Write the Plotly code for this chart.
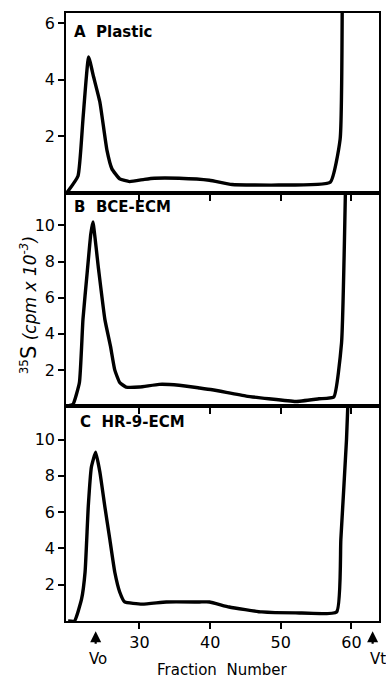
import plotly.graph_objects as go
from plotly.subplots import make_subplots

# ---- data (fraction number vs 35S cpm x 10^-3) ----
fraction_a = [19.7, 21.3, 22.0, 22.8, 23.5, 24.4, 25.4, 26.1, 27.2, 28.6, 30.7, 32.1,
              35.6, 39.9, 43.1, 49.7, 57.0, 58.4, 58.7]
cpm_a = [0.0, 0.6, 2.6, 4.8, 4.1, 3.2, 1.5, 0.85, 0.5, 0.4, 0.48, 0.52,
         0.52, 0.45, 0.3, 0.28, 0.38, 1.9, 7.0]

fraction_b = [19.9, 20.6, 21.5, 22.0, 22.6, 23.1, 23.4, 24.2, 25.1, 25.9, 26.5, 27.2,
              28.1, 30.0, 32.8, 35.6, 38.5, 40.3, 45.1, 48.3, 52.1, 55.4, 57.5, 58.6, 59.2]
cpm_b = [0.0, 0.1, 1.3, 4.8, 7.4, 9.5, 10.2, 7.6, 4.8, 3.3, 2.0, 1.3,
         1.05, 1.05, 1.2, 1.15, 1.0, 0.9, 0.55, 0.4, 0.25, 0.4, 0.5, 3.5, 13.0]

fraction_c = [19.9, 20.8, 21.8, 22.3, 22.75, 23.2, 23.8, 24.4, 25.1, 25.8, 26.5, 27.2,
              27.9, 30.4, 33.8, 38.5, 39.9, 42.7, 47.3, 52.1, 57.9, 58.5, 59.3, 59.6]
cpm_c = [0.0, 0.0, 1.2, 2.7, 6.3, 8.5, 9.3, 8.2, 6.3, 4.5, 2.7, 1.6,
         1.05, 0.93, 1.05, 1.05, 1.05, 0.77, 0.5, 0.45, 0.5, 4.5, 10.0, 13.0]

panel_labels = ["A&nbsp; Plastic", "B&nbsp; BCE-ECM", "C&nbsp; HR-9-ECM"]
x_ticks = [30, 40, 50, 60]
y_ticks_a = [2, 4, 6]
y_ticks_bc = [2, 4, 6, 8, 10]
vo_fraction = 23.8
vt_fraction = 63.0

fig = make_subplots(rows=3, cols=1, shared_xaxes=True, vertical_spacing=0)

line_style = dict(color="black", width=3.4, shape="spline", smoothing=0.4)
for row, (xs, ys) in enumerate([(fraction_a, cpm_a), (fraction_b, cpm_b), (fraction_c, cpm_c)], start=1):
    fig.add_trace(go.Scatter(x=xs, y=ys, mode="lines", line=line_style, showlegend=False,
                             hoverinfo="skip"), row=row, col=1)

tick_font = dict(family="DejaVu Sans", size=16, color="black")

# domains (plot area 608 px tall)
doms = [[0.704, 1.0], [0.3536, 0.704], [0.0, 0.3536]]
yranges = [[0, 6.35], [0, 11.8], [0, 11.85]]
for row in range(1, 4):
    fig.update_xaxes(range=[19.6, 63.9], tickvals=x_ticks, ticks="outside", ticklen=6,
                     tickwidth=1.5, tickcolor="black", showline=True, mirror=True,
                     linecolor="black", linewidth=1.5, showgrid=False, zeroline=False,
                     showticklabels=(row == 3), tickfont=tick_font, row=row, col=1)
    fig.update_yaxes(range=yranges[row - 1], domain=doms[row - 1],
                     tickvals=(y_ticks_a if row == 1 else y_ticks_bc),
                     ticks="outside", ticklen=6, tickwidth=1.5, tickcolor="black",
                     showline=True, mirror=True, linecolor="black", linewidth=1.5,
                     showgrid=False, zeroline=False, tickfont=tick_font, row=row, col=1)

label_font = dict(family="DejaVu Sans", size=15, color="black")
label_pos = [(0.019, 0.969), (0.019, 0.681), (0.038, 0.327)]
for (px, py), lab in zip(label_pos, panel_labels):
    fig.add_annotation(text=f"<b>{lab}</b>", xref="paper", yref="paper", x=px, y=py,
                       xanchor="left", yanchor="middle", showarrow=False, font=label_font)

# y-axis title
fig.add_annotation(text="<sup>35</sup><span style='font-size:21px'>S</span> <i>(cpm x 10<sup>-3</sup>)</i>",
                   xref="paper", yref="paper",
                   x=-0.165, y=0.52, textangle=-90, showarrow=False,
                   font=dict(family="DejaVu Sans", size=17, color="black"))

# x-axis title
fig.add_annotation(text="Fraction&nbsp; Number", xref="paper", yref="paper", x=0.5, y=-0.081,
                   xanchor="center", yanchor="middle", showarrow=False,
                   font=dict(family="DejaVu Sans", size=15, color="black"))

# Vo / Vt markers
for xv, lab, xl in [(vo_fraction, "Vo", vo_fraction + 0.3), (vt_fraction, "Vt", vt_fraction + 0.8)]:
    fig.add_annotation(x=xv, y=-0.017, xref="x3", yref="paper", text="", showarrow=True,
                       arrowhead=2, arrowsize=1, arrowwidth=2.2, arrowcolor="black",
                       ax=0, ay=14, axref="pixel", ayref="pixel")
    fig.add_annotation(x=xl, y=-0.062, xref="x3", yref="paper", text=lab, showarrow=False,
                       xanchor="center", yanchor="middle",
                       font=dict(family="DejaVu Sans", size=15, color="black"))

fig.update_layout(width=386, height=680, margin=dict(l=66, r=5, t=13, b=59),
                  plot_bgcolor="white", paper_bgcolor="white")

fig.write_html("out.html", config={"displayModeBar": False},
               post_script="document.body.style.margin='0';document.body.style.padding='0';")
